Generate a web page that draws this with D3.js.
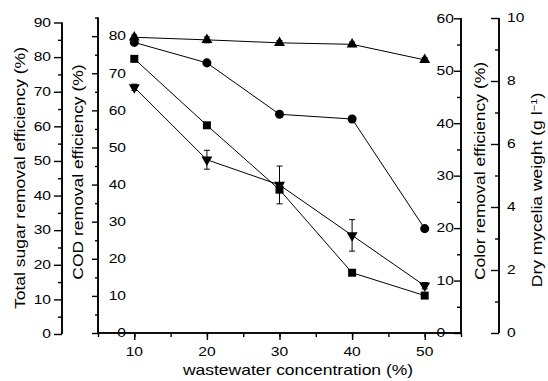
<!DOCTYPE html>
<html><head><meta charset="utf-8">
<script src="https://cdn.jsdelivr.net/npm/d3@7"></script>
<style>body{margin:0;background:#fff}svg{display:block;font-family:"Liberation Sans",Arial,sans-serif}</style>
</head><body><svg id="c" width="548" height="381"></svg>
<script>
const conc = [10, 20, 30, 40, 50];
const totalSugar = [79.5, 60.3, 41.7, 17.7, 11.1];      // squares, left axis
const cod = [79.7, 79.0, 78.2, 77.8, 73.6];             // up triangles, COD axis
const codErr = [0.6, 0.8, 0.6, 0.6, 0.6];
const color = [55.4, 51.5, 41.7, 40.8, 19.9];           // circles, color axis
const dryWeight = [7.8, 5.5, 4.7, 3.1, 1.5];            // down triangles, dry axis
const dryErr = [0.1, 0.3, 0.6, 0.5, 0.1];
const xTicks = [10, 20, 30, 40, 50];
const sugarTicks = [0, 10, 20, 30, 40, 50, 60, 70, 80, 90];
const codTicks = [0, 10, 20, 30, 40, 50, 60, 70, 80];
const colorTicks = [0, 10, 20, 30, 40, 50, 60];
const dryTicks = [0, 2, 4, 6, 8, 10];

const svg = d3.select("#c");
const x = d3.scaleLinear().domain([5, 55]).range([98, 461]);
const ySugar = d3.scaleLinear().domain([0, 90]).range([334, 22.5]);
const yCod = d3.scaleLinear().domain([0, 85]).range([333, 17.6]);
const yColor = d3.scaleLinear().domain([0, 60]).range([333, 18.3]);
const yDry = d3.scaleLinear().domain([0, 10]).range([333, 18]);

const LFS = 12, LSX = 1.3;   // tick label font size / horizontal stretch
const TFS = 14, TSX = 1.25;  // title font size / stretch

function styleAxis(g) {
  g.selectAll("path.domain").attr("stroke", "#000").attr("stroke-width", 1.6);
  g.selectAll("line").attr("stroke", "#000").attr("stroke-width", 1.4);
}
function label(px, py, txt, anchor) {
  svg.append("text").attr("transform", `translate(${px},${py}) scale(${LSX},1)`)
    .attr("text-anchor", anchor).attr("dy", "0.36em").attr("font-size", LFS).attr("fill", "#000").text(txt);
}
// x axis
const gx = svg.append("g").attr("transform", "translate(0,333)");
gx.call(d3.axisBottom(x).tickValues(d3.range(5, 56, 5)).tickSize(4).tickFormat(""));
gx.append("g").call(d3.axisBottom(x).tickValues(xTicks).tickSize(7).tickFormat(""));
styleAxis(gx);
gx.selectAll("path.domain").attr("d", "M98,0H461");
xTicks.forEach(t => label(x(t), 351.5, t, "middle"));

// left: total sugar
const gl = svg.append("g").attr("transform", "translate(62,0)");
gl.call(d3.axisLeft(ySugar).tickValues(d3.range(5, 90, 10)).tickSize(4).tickFormat(""));
gl.append("g").call(d3.axisLeft(ySugar).tickValues(sugarTicks).tickSize(8).tickFormat(""));
styleAxis(gl);
gl.selectAll("path.domain").attr("d", `M0,${ySugar(0)}V${ySugar(90)}`);
sugarTicks.forEach(t => label(51, ySugar(t), t, "end"));

// COD axis (ticks outside, labels inside)
const gc = svg.append("g").attr("transform", "translate(98,0)");
gc.call(d3.axisLeft(yCod).tickValues(d3.range(5, 86, 10)).tickSize(3).tickFormat(""));
gc.append("g").call(d3.axisLeft(yCod).tickValues(codTicks).tickSize(6).tickFormat(""));
styleAxis(gc);
gc.selectAll("path.domain").attr("d", `M0,${yCod(0)}V${yCod(85)}`);
codTicks.forEach(t => label(126, yCod(t), t, "end"));

// Color axis (ticks inside, labels left)
const gr = svg.append("g").attr("transform", "translate(461,0)");
gr.call(d3.axisLeft(yColor).tickValues(d3.range(5, 60, 10)).tickSize(4).tickFormat(""));
gr.append("g").call(d3.axisLeft(yColor).tickValues(colorTicks).tickSize(7).tickFormat(""));
styleAxis(gr);
gr.selectAll("path.domain").attr("d", `M0,${yColor(0)}V${yColor(60)}`);
colorTicks.forEach(t => label(436.5, yColor(t), t, "start"));

// Dry axis
const gd = svg.append("g").attr("transform", "translate(499,0)");
gd.call(d3.axisLeft(yDry).tickValues(d3.range(1, 10, 2)).tickSize(4).tickFormat(""));
gd.append("g").call(d3.axisLeft(yDry).tickValues(dryTicks).tickSize(8).tickFormat(""));
styleAxis(gd);
gd.selectAll("path.domain").attr("d", `M0,${yDry(0)}V${yDry(10)}`);
dryTicks.forEach(t => label(507, yDry(t), t, "start"));

// titles
svg.append("text").attr("transform", `translate(298,375) scale(${TSX},1)`).attr("text-anchor", "middle")
  .attr("font-size", TFS).text("wastewater concentration (%)");
function vtitle(cx, cy, txt) {
  return svg.append("text").attr("transform", `translate(${cx},${cy}) rotate(-90) scale(${TSX},1)`)
    .attr("text-anchor", "middle").attr("font-size", TFS).text(txt);
}
vtitle(25, 178, "Total sugar removal efficiency (%)");
vtitle(83, 172, "COD removal efficiency (%)");
vtitle(485, 171, "Color removal efficiency (%)");
const dt = vtitle(542, 190, "Dry mycelia weight (g l");
dt.append("tspan").attr("dy", -5).attr("font-size", 9).text("\u22121");
dt.append("tspan").attr("dy", 5).text(")");

// series
const line = d3.line();
function series(vals, ys, sym, size, errs) {
  const pts = vals.map((v, i) => [x(conc[i]), ys(v)]);
  if (errs) {
    vals.forEach((v, i) => {
      const xx = x(conc[i]), y1 = ys(v + errs[i]), y2 = ys(v - errs[i]);
      const g = svg.append("g").attr("stroke", "#000").attr("stroke-width", 1);
      g.append("line").attr("x1", xx).attr("x2", xx).attr("y1", y1).attr("y2", y2);
      g.append("line").attr("x1", xx - 3).attr("x2", xx + 3).attr("y1", y1).attr("y2", y1);
      g.append("line").attr("x1", xx - 3).attr("x2", xx + 3).attr("y1", y2).attr("y2", y2);
    });
  }
  svg.append("path").attr("d", line(pts)).attr("fill", "none").attr("stroke", "#000").attr("stroke-width", 1);
  svg.selectAll(null).data(pts).enter().append("path")
    .attr("transform", d => `translate(${d[0]},${d[1]})`)
    .attr("d", d3.symbol().type(sym).size(size)).attr("fill", "#000");
}
const triDown = { draw(ctx, size) { const h = Math.sqrt(size * 4 / Math.sqrt(3)); const s = h * Math.sqrt(3) / 2;
  ctx.moveTo(-h / 2, -s / 3); ctx.lineTo(h / 2, -s / 3); ctx.lineTo(0, 2 * s / 3); ctx.closePath(); } };
series(totalSugar, ySugar, d3.symbolSquare, 64, null);
series(cod, yCod, d3.symbolTriangle, 52, codErr);
series(color, yColor, d3.symbolCircle, 64, null);
series(dryWeight, yDry, triDown, 52, dryErr);
</script></body></html>
